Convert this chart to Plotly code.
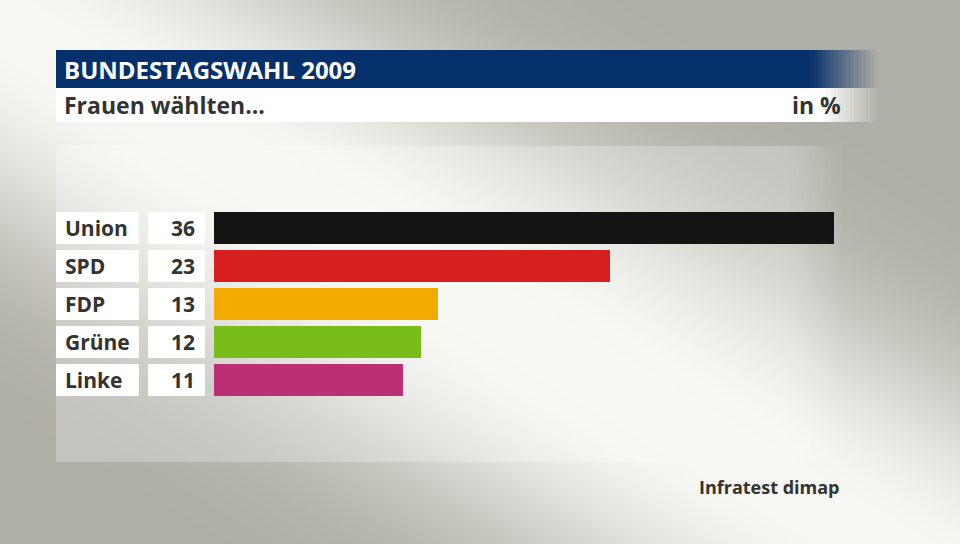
import plotly.graph_objects as go
import zlib, struct, base64, math

# ---- data ----
parties = ["Union", "SPD", "FDP", "Grüne", "Linke"]
values = [36, 23, 13, 12, 11]
colors = ["#141414", "#d71f1f", "#f2aa00", "#79bd1c", "#bc2f75"]
title = "BUNDESTAGSWAHL 2009"
subtitle = "Frauen wählten..."
unit = "in %"
source = "Infratest dimap"

W, H = 960, 544
FONT = "Open Sans"
TXT = "#333330"


def px(x):
    return x / W


def py(y):
    return 1 - y / H


# ---- background gradient image (pure python png) ----
def make_bg():
    s = 3
    w, h = W // s, math.ceil(H / s)
    base = (176, 175, 167)
    white = (247, 247, 243)
    norm = math.sqrt(1 + 0.6 ** 2)
    raw = bytearray()
    for j in range(h):
        raw.append(0)
        y = j * s + 1.5
        for i in range(w):
            x = i * s + 1.5
            d = abs(y - (0.6 * x + 20)) / norm
            t = math.exp(-((d / 185) ** 2.5))
            for c in range(3):
                raw.append(int(base[c] + (white[c] - base[c]) * t))

    def chunk(tag, data):
        return (struct.pack(">I", len(data)) + tag + data +
                struct.pack(">I", zlib.crc32(tag + data) & 0xffffffff))

    png = b"\x89PNG\r\n\x1a\n"
    png += chunk(b"IHDR", struct.pack(">IIBBBBB", w, h, 8, 2, 0, 0, 0))
    png += chunk(b"IDAT", zlib.compress(bytes(raw), 9))
    png += chunk(b"IEND", b"")
    return "data:image/png;base64," + base64.b64encode(png).decode()


fig = go.Figure()
fig.add_trace(go.Bar(
    y=parties, x=values, orientation="h",
    marker=dict(color=colors, line=dict(width=0)),
    width=32 / 38, hoverinfo="skip",
))

shapes = []
annotations = []


def faded_rect(x0, xf, x1, ytop, ybot, rgb, alpha, n):
    """solid rect x0..xf then fading strips xf..x1"""
    shapes.append(dict(type="rect", xref="paper", yref="paper",
                       x0=px(x0), x1=px(xf), y0=py(ybot), y1=py(ytop),
                       fillcolor="rgba(%d,%d,%d,%.3f)" % (rgb + (alpha,)),
                       line=dict(width=0), layer="below"))
    stp = (x1 - xf) / n
    for k in range(n):
        op = alpha * (1 - (k + 0.5) / n)
        shapes.append(dict(type="rect", xref="paper", yref="paper",
                           x0=px(xf + k * stp), x1=px(xf + (k + 1) * stp),
                           y0=py(ybot), y1=py(ytop),
                           fillcolor="rgba(%d,%d,%d,%.3f)" % (rgb + (op,)),
                           line=dict(width=0), layer="below"))


# panel (light, fading out to the right)
faded_rect(56, 790, 846, 146, 462, (255, 255, 255), 0.25, 14)
# title bar
faded_rect(56, 810, 878, 50, 88, (6, 48, 107), 1.0, 17)
# subtitle bar
faded_rect(56, 822, 878, 88, 122, (255, 255, 255), 1.0, 14)

# label / value boxes
hw = 16 / 38
for i, (p, v) in enumerate(zip(parties, values)):
    shapes.append(dict(type="rect", xref="paper", yref="y",
                       x0=px(56), x1=px(139), y0=i - hw, y1=i + hw,
                       fillcolor="#ffffff", line=dict(width=0), layer="below"))
    shapes.append(dict(type="rect", xref="paper", yref="y",
                       x0=px(148), x1=px(205), y0=i - hw, y1=i + hw,
                       fillcolor="#ffffff", line=dict(width=0), layer="below"))
    annotations.append(dict(xref="paper", yref="y", x=px(63), y=p, text="<b>%s</b>" % p,
                            xanchor="left", yanchor="middle", showarrow=False,
                            font=dict(family=FONT, size=21, color=TXT)))
    annotations.append(dict(xref="paper", yref="y", x=px(197), y=p, text="<b>%d</b>" % v,
                            xanchor="right", yanchor="middle", showarrow=False,
                            font=dict(family=FONT, size=21, color=TXT)))

annotations.append(dict(xref="paper", yref="paper", x=px(62), y=py(69), text="<b>%s</b>" % title,
                        xanchor="left", yanchor="middle", showarrow=False,
                        font=dict(family=FONT, size=24, color="#ffffff")))
annotations.append(dict(xref="paper", yref="paper", x=px(62), y=py(105), text="<b>%s</b>" % subtitle,
                        xanchor="left", yanchor="middle", showarrow=False,
                        font=dict(family=FONT, size=23, color=TXT)))
annotations.append(dict(xref="paper", yref="paper", x=px(843), y=py(105), text="<b>%s</b>" % unit,
                        xanchor="right", yanchor="middle", showarrow=False,
                        font=dict(family=FONT, size=23, color=TXT)))
annotations.append(dict(xref="paper", yref="paper", x=px(842), y=py(487), text="<b>%s</b>" % source,
                        xanchor="right", yanchor="middle", showarrow=False,
                        font=dict(family=FONT, size=18, color=TXT)))

fig.update_layout(
    width=W, height=H, margin=dict(l=0, r=0, t=0, b=0),
    paper_bgcolor="#b0afa7", plot_bgcolor="rgba(0,0,0,0)",
    showlegend=False,
    xaxis=dict(domain=[px(214), px(834)], range=[0, 36], visible=False, fixedrange=True),
    yaxis=dict(domain=[py(399), py(209)], type="category", categoryarray=parties,
               categoryorder="array", range=[4.5, -0.5], visible=False, fixedrange=True),
    shapes=shapes, annotations=annotations,
    images=[dict(source=make_bg(), xref="paper", yref="paper", x=0, y=1,
                 sizex=1, sizey=1, sizing="stretch", layer="below",
                 xanchor="left", yanchor="top")],
    bargap=0,
)

fig.write_html("out.html", config=dict(displayModeBar=False),
               post_script="document.body.style.margin='0';document.body.style.overflow='hidden';")
